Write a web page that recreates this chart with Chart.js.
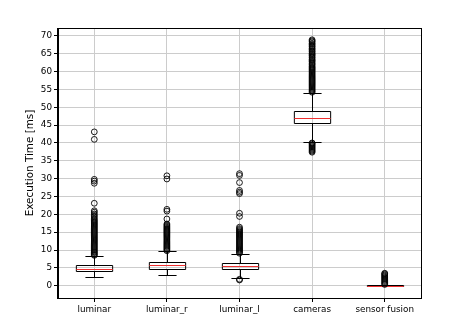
<!DOCTYPE html>
<html><head><meta charset="utf-8">
<script src="https://cdn.jsdelivr.net/npm/chart.js@4"></script>
<style>html,body{margin:0;padding:0;background:#fff}#wrap{width:454px;height:323px}</style>
</head><body><div id="wrap"><canvas id="c" width="454" height="323"></canvas></div>
<script>
const categories = ["luminar", "luminar_r", "luminar_l", "cameras", "sensor fusion"];
const q1Values = [4.1, 4.8, 4.7, 45.5, 0.0];
const medianValues = [4.75, 5.8, 5.5, 47.1, 0.05];
const q3Values = [5.9, 6.7, 6.3, 48.9, 0.1];
const whiskerLowValues = [2.5, 3.0, 2.05, 40.2, 0.0];
const whiskerHighValues = [8.4, 9.6, 8.9, 54.0, 0.3];

const luminarOutliers = [8.5, 8.7, 9.0, 9.3, 9.5, 9.8, 10.1, 10.4, 10.7, 11.0, 11.3, 11.6, 11.9, 12.2, 12.5, 12.8, 13.1, 13.4, 13.7, 14.0, 14.3, 14.6, 14.9, 15.2, 15.5, 15.8, 16.1, 16.4, 16.7, 17.0, 17.3, 17.6, 17.9, 18.2, 18.5, 18.9, 19.3, 19.7, 20.1, 20.6, 21.0, 23.1, 28.7, 29.3, 29.8, 41.0, 43.1];
const luminarROutliers = [9.8, 10.1, 10.4, 10.7, 11.0, 11.3, 11.6, 11.9, 12.2, 12.5, 12.8, 13.1, 13.4, 13.7, 14.0, 14.3, 14.6, 14.9, 15.2, 15.5, 15.8, 16.1, 16.4, 16.7, 17.0, 17.3, 18.7, 20.9, 21.4, 29.9, 30.8];
const luminarLOutliers = [1.6, 1.8, 9.1, 9.4, 9.7, 10.0, 10.3, 10.6, 10.9, 11.2, 11.5, 11.8, 12.1, 12.4, 12.7, 13.0, 13.3, 13.6, 13.9, 14.2, 14.5, 14.8, 15.1, 15.4, 15.7, 16.0, 16.4, 19.4, 20.3, 25.8, 26.2, 26.7, 28.9, 30.9, 31.4];
const camerasOutliers = [37.4, 37.7, 38.0, 38.3, 38.6, 38.9, 39.2, 39.5, 39.8, 40.0, 54.2, 54.5, 54.8, 55.1, 55.4, 55.7, 56.0, 56.3, 56.6, 56.9, 57.2, 57.5, 57.8, 58.1, 58.4, 58.7, 59.0, 59.3, 59.6, 59.9, 60.2, 60.5, 60.8, 61.1, 61.4, 61.8, 62.1, 62.4, 62.8, 63.1, 63.4, 63.8, 64.1, 64.5, 64.8, 65.1, 65.5, 65.8, 66.2, 66.5, 66.9, 67.2, 67.6, 67.9, 68.3, 68.6, 68.9];
const sensorFusionOutliers = [0.35, 0.6, 0.9, 1.2, 1.5, 1.8, 2.1, 2.4, 2.7, 3.0, 3.3, 3.5];
const yTickValues = [0, 5, 10, 15, 20, 25, 30, 35, 40, 45, 50, 55, 60, 65, 70];
const yLabel = "Execution Time [ms]";

const outlierLists = [luminarOutliers, luminarROutliers, luminarLOutliers, camerasOutliers, sensorFusionOutliers];
const outlierPoints = [];
outlierLists.forEach((list, i) => list.forEach(v => outlierPoints.push({x: categories[i], y: v})));

const FONT = "DejaVu Sans";

const boxPlugin = {
  id: 'boxes',
  beforeDatasetsDraw(chart) {
    const ctx = chart.ctx, xs = chart.scales.x, ys = chart.scales.y;
    ctx.save();
    ctx.lineWidth = 1;
    categories.forEach((c, i) => {
      const xc = Math.round(xs.getPixelForValue(i)) + 0.5;
      const hb = xs.getPixelForValue(i + 0.25) - xs.getPixelForValue(i);
      const hc = hb / 2;
      const py = v => Math.round(ys.getPixelForValue(v)) + 0.5;
      ctx.strokeStyle = '#000';
      ctx.beginPath();
      ctx.moveTo(xc, py(q1Values[i])); ctx.lineTo(xc, py(whiskerLowValues[i]));
      ctx.moveTo(xc, py(q3Values[i])); ctx.lineTo(xc, py(whiskerHighValues[i]));
      ctx.moveTo(xc - hc, py(whiskerLowValues[i])); ctx.lineTo(xc + hc, py(whiskerLowValues[i]));
      ctx.moveTo(xc - hc, py(whiskerHighValues[i])); ctx.lineTo(xc + hc, py(whiskerHighValues[i]));
      ctx.stroke();
      ctx.beginPath();
      ctx.rect(xc - hb, py(q3Values[i]), 2 * hb, py(q1Values[i]) - py(q3Values[i]));
      ctx.stroke();
      ctx.strokeStyle = '#f03030';
      ctx.beginPath();
      ctx.moveTo(xc - hb, py(medianValues[i])); ctx.lineTo(xc + hb, py(medianValues[i]));
      ctx.stroke();
    });
    ctx.restore();
  },
  afterDatasetsDraw(chart) {
    const ctx = chart.ctx, a = chart.chartArea;
    ctx.save();
    ctx.strokeStyle = '#000';
    ctx.lineWidth = 1;
    ctx.strokeRect(Math.round(a.left) - 0.5, Math.round(a.top) + 0.5, Math.round(a.right - a.left) + 1, Math.round(a.bottom - a.top));
    ctx.restore();
  }
};

new Chart(document.getElementById('c'), {
  type: 'scatter',
  data: {
    labels: categories,
    datasets: [{
      data: outlierPoints,
      pointStyle: 'circle',
      pointRadius: 2.9,
      pointHoverRadius: 2.9,
      pointBorderWidth: 0.9,
      pointBorderColor: '#000',
      pointBackgroundColor: 'rgba(0,0,0,0)',
      showLine: false
    }]
  },
  options: {
    responsive: false,
    animation: false,
    devicePixelRatio: 1,
    events: [],
    layout: {padding: {left: 0, top: 28, right: 33, bottom: 0}},
    plugins: {legend: {display: false}, tooltip: {enabled: false}},
    scales: {
      x: {
        type: 'category',
        labels: categories,
        offset: true,
        grid: {offset: false, color: '#cccccc', lineWidth: 1, tickColor: '#000', tickLength: 4, drawTicks: true},
        border: {display: true, color: '#000', width: 1},
        ticks: {color: '#000', font: {family: FONT, size: 8.8}, padding: 2, maxRotation: 0, autoSkip: false},
        afterFit(s) { s.height = 25; }
      },
      y: {
        type: 'linear',
        min: -3.44,
        max: 72.2,
        afterBuildTicks(s) { s.ticks = yTickValues.map(v => ({value: v})); },
        grid: {color: '#cccccc', lineWidth: 1, tickColor: '#000', tickLength: 4, drawTicks: true},
        border: {display: true, color: '#000', width: 1},
        ticks: {color: '#000', font: {family: FONT, size: 8.8}, padding: 2},
        title: {display: true, text: yLabel, color: '#000', font: {family: FONT, size: 10.4}, padding: {top: 24.5, bottom: 0}},
        afterFit(s) { s.width = 58; }
      }
    }
  },
  plugins: [boxPlugin]
});
</script>
</body></html>
